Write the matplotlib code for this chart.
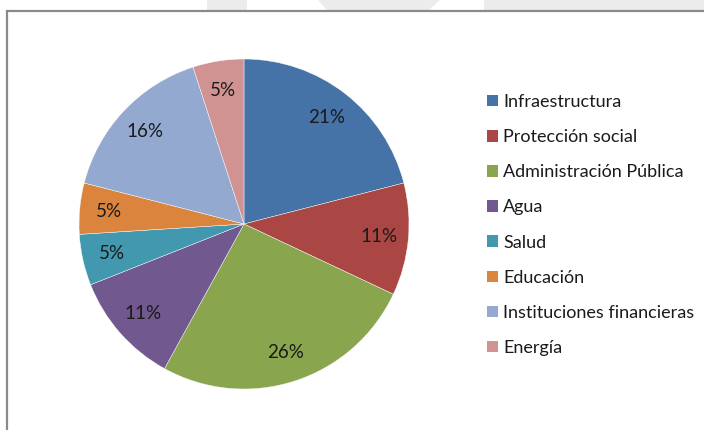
import matplotlib
matplotlib.use("Agg")
import matplotlib.pyplot as plt
from matplotlib.patches import Patch, Rectangle, Polygon

plt.rcParams["font.family"] = ["Lato", "DejaVu Sans"]

# --- data ---
categories = ["Infraestructura", "Protección social", "Administración Pública", "Agua",
              "Salud", "Educación", "Instituciones financieras", "Energía"]
shares = [21, 11, 26, 11, 5, 5, 16, 5]
colors = ["#4572A7", "#AA4643", "#89A54E", "#71588F", "#4198AF", "#DB843D", "#93A9CF", "#D19392"]

W, H = 704, 430
fig = plt.figure(figsize=(W/100, H/100), dpi=100)
fig.patch.set_facecolor("white")

def fx(px): return px / W
def fy(py): return 1 - py / H

# faint background shapes above the chart frame
for xs in ([(207, 0), (247, 0), (247, 11), (207, 11)],
           [(318, 0), (440, 0), (428, 11), (328, 11)],
           [(484, 0), (704, 0), (704, 11), (484, 11)]):
    fig.patches.append(Polygon([(fx(x), fy(y)) for x, y in xs], closed=True,
                               transform=fig.transFigure, fc="#ececec", ec="none"))
# chart frame
fig.patches.append(Rectangle((fx(7), fy(440)), fx(720), fy(11) - fy(440), transform=fig.transFigure,
                             fill=False, ec="#8a8a8a", lw=1.6))

# pie: centre (244,224), radius ~165 px
cx, cy, r = 244, 224, 165
ax = fig.add_axes([fx(cx - r), fy(cy + r), 2*r/W, 2*r/H])
wedges, texts, autotexts = ax.pie(shares, colors=colors, startangle=90, counterclock=False,
                                  autopct="%1.0f%%", pctdistance=0.82,
                                  wedgeprops=dict(edgecolor="white", linewidth=0.3),
                                  textprops=dict(fontsize=13.5, color="#1a1a1a"))
ax.set_xlim(-1, 1); ax.set_ylim(-1, 1)
ax.set_aspect("equal"); ax.axis("off")

handles = [Patch(fc=c, ec="none", label=l) for c, l in zip(colors, categories)]
fig.legend(handles=handles, loc="upper left", bbox_to_anchor=(fx(478), fy(85)),
           frameon=False, fontsize=13, handlelength=0.6, handleheight=0.6,
           handletextpad=0.3, labelspacing=1.06, labelcolor="#1a1a1a", borderpad=0)

fig.savefig("out.png", dpi=100)
